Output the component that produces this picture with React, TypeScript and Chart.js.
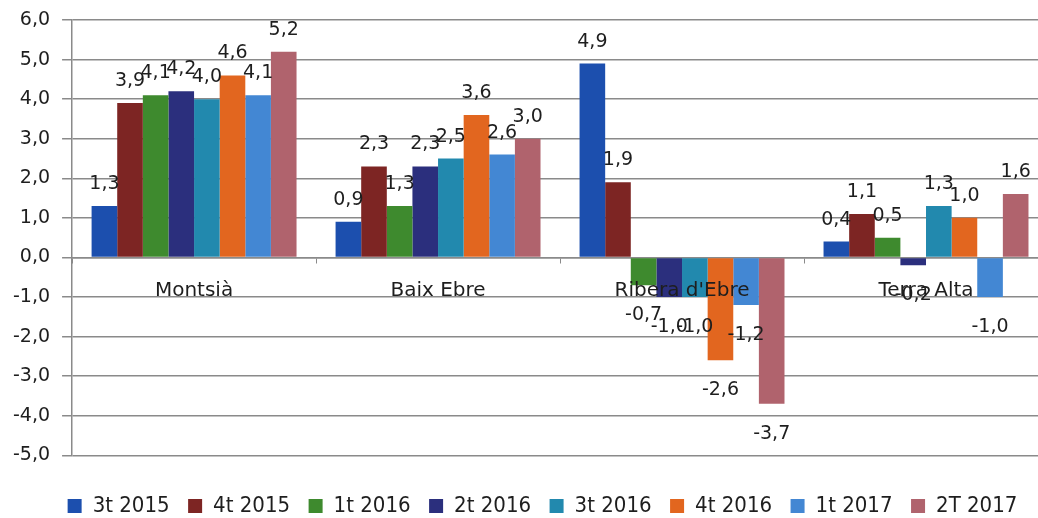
import React, { useEffect, useRef } from "react";
import { Chart, registerables } from "chart.js";

Chart.register(...registerables);

const categories = ["Montsià", "Baix Ebre", "Ribera d'Ebre", "Terra Alta"];
const seriesNames = ["3t 2015", "4t 2015", "1t 2016", "2t 2016", "3t 2016", "4t 2016", "1t 2017", "2T 2017"];
const values3t2015 = [1.3, 0.9, 4.9, 0.4];
const values4t2015 = [3.9, 2.3, 1.9, 1.1];
const values1t2016 = [4.1, 1.3, -0.7, 0.5];
const values2t2016 = [4.2, 2.3, -1.0, -0.2];
const values3t2016 = [4.0, 2.5, -1.0, 1.3];
const values4t2016 = [4.6, 3.6, -2.6, 1.0];
const values1t2017 = [4.1, 2.6, -1.2, -1.0];
const values2T2017 = [5.2, 3.0, -3.7, 1.6];
const seriesColors = ["#1c4fae", "#7d2523", "#3e8a2e", "#2b2f7d", "#2289ae", "#e2661f", "#4387d3", "#b0636d"];
const yMin = -5;
const yMax = 6;
const yStep = 1;

const allSeries = [values3t2015, values4t2015, values1t2016, values2t2016, values3t2016, values4t2016, values1t2017, values2T2017];

const fmt = (v: number) => v.toFixed(1).replace(".", ",");

const MAIN_FONT = '"DejaVu Sans", sans-serif';
const LEGEND_FONT = '"DejaVu Sans Condensed", "DejaVu Sans", sans-serif';
const LEGEND_SHIFT = 18;

const dataLabels = {
  id: "dataLabels",
  afterDatasetsDraw(chart: any) {
    const ctx = chart.ctx;
    ctx.save();
    ctx.font = `19px ${MAIN_FONT}`;
    ctx.fillStyle = "#1e1e1e";
    ctx.textAlign = "center";
    ctx.textBaseline = "alphabetic";
    chart.data.datasets.forEach((ds: any, i: number) => {
      const meta = chart.getDatasetMeta(i);
      meta.data.forEach((el: any, j: number) => {
        const v = ds.data[j] as number;
        const y = v >= 0 ? el.y - 17 : el.y + 35;
        ctx.fillText(fmt(v), el.x, y);
      });
    });
    ctx.restore();
  },
};

const legendShift = {
  id: "legendShift",
  afterLayout(chart: any) {
    const lg = chart.legend;
    if (lg) {
      lg.left += LEGEND_SHIFT;
      lg.right += LEGEND_SHIFT;
    }
  },
};

export default function App() {
  const canvasRef = useRef<HTMLCanvasElement | null>(null);

  useEffect(() => {
    if (!canvasRef.current) return;
    const chart = new Chart(canvasRef.current, {
      type: "bar",
      data: {
        labels: categories,
        datasets: seriesNames.map((name, i) => ({
          label: name,
          data: allSeries[i],
          backgroundColor: seriesColors[i],
          borderWidth: 0,
          categoryPercentage: 0.84,
          barPercentage: 1,
        })),
      },
      options: {
        animation: false,
        responsive: true,
        maintainAspectRatio: false,
        layout: { padding: { left: 1, right: 4, top: 20, bottom: 0 } },
        scales: {
          x: {
            position: { y: 0 } as any,
            offset: true,
            grid: {
              display: true,
              drawOnChartArea: false,
              drawTicks: true,
              tickLength: 5,
              color: "#8a8a8a",
              offset: true,
            },
            border: { display: true, color: "#8a8a8a", width: 1.5 },
            ticks: {
              z: 1,
              color: "#1e1e1e",
              font: { family: MAIN_FONT, size: 20 },
              padding: 16,
              maxRotation: 0,
            },
          },
          y: {
            min: yMin,
            max: yMax,
            afterFit: (scale: any) => {
              scale.paddingTop = 0;
            },
            ticks: {
              stepSize: yStep,
              color: "#1e1e1e",
              font: { family: MAIN_FONT, size: 19 },
              padding: 12,
              callback: (v: any) => fmt(Number(v)),
            },
            grid: {
              color: "#8a8a8a",
              lineWidth: 1.5,
              drawTicks: true,
              tickLength: 10,
            },
            border: { display: true, color: "#8a8a8a", width: 1.5 },
          },
        },
        plugins: {
          tooltip: { enabled: false },
          legend: {
            position: "bottom",
            title: {
              display: true,
              text: "",
              padding: { top: 20, bottom: 0 },
              font: { size: 1 },
            },
            labels: {
              boxWidth: 14,
              boxHeight: 14,
              padding: 18.5,
              color: "#1e1e1e",
              font: { family: LEGEND_FONT, size: 22 },
            },
          },
        },
      },
      plugins: [dataLabels, legendShift],
    });
    return () => chart.destroy();
  }, []);

  return (
    <div style={{ position: "fixed", left: 0, top: 0, width: 1038, height: 518, overflow: "hidden", background: "#fff" }}>
      <div style={{ position: "absolute", left: 0, top: 0, width: 1052, height: 527 }}>
        <canvas ref={canvasRef} />
      </div>
    </div>
  );
}
